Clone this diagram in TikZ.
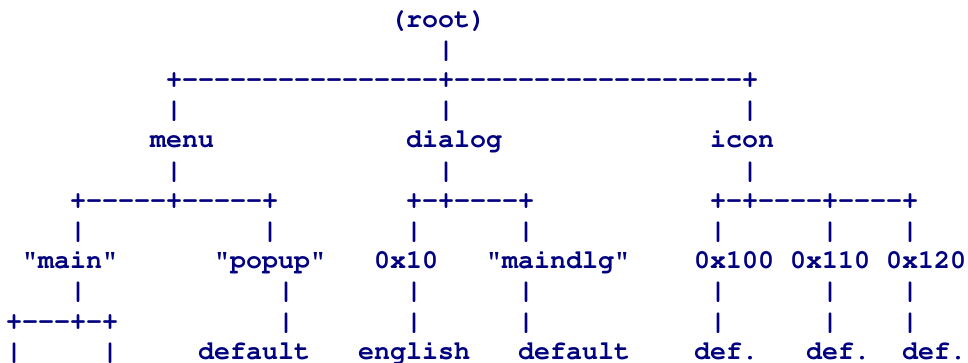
\documentclass[tikz,border=0pt]{standalone}
\usepackage[T1]{fontenc}
\definecolor{navyink}{RGB}{0,0,128}
\tikzset{asc/.style={anchor=base west, inner sep=0pt, outer sep=0pt, text=navyink,
  font=\fontencoding{T1}\fontfamily{pcr}\fontseries{b}\fontshape{n}\fontsize{26.67pt}{30pt}\selectfont}}
% row, column, name, text
\newcommand\asc[4]{\node[asc] (#3) at ({6pt+16pt*#2},{-27pt-30.2pt*#1}) {#4};}
\begin{document}
\begin{tikzpicture}
\useasboundingbox (0,0) rectangle (968pt,-362pt);
% row 0-1
\asc{0}{24}{root}{(root)}
\asc{1}{27}{rootbar}{|}
% row 2
\asc{2}{10}{rootfork}{+-{}-{}-{}-{}-{}-{}-{}-{}-{}-{}-{}-{}-{}-{}-{}-+-{}-{}-{}-{}-{}-{}-{}-{}-{}-{}-{}-{}-{}-{}-{}-{}-{}-+}
% row 3
\asc{3}{10}{menubarA}{|}
\asc{3}{27}{dialogbarA}{|}
\asc{3}{46}{iconbarA}{|}
% row 4
\asc{4}{9}{menu}{menu}
\asc{4}{25}{dialog}{dialog}
\asc{4}{44}{icon}{icon}
% row 5
\asc{5}{10}{menubarB}{|}
\asc{5}{27}{dialogbarB}{|}
\asc{5}{46}{iconbarB}{|}
% row 6
\asc{6}{4}{menufork}{+-{}-{}-{}-{}-+-{}-{}-{}-{}-+}
\asc{6}{25}{dialogfork}{+-+-{}-{}-{}-+}
\asc{6}{44}{iconfork}{+-+-{}-{}-{}-+-{}-{}-{}-+}
% row 7
\asc{7}{4}{mainbarA}{|}
\asc{7}{16}{popupbarA}{|}
\asc{7}{25}{tenbarA}{|}
\asc{7}{32}{maindlgbarA}{|}
\asc{7}{44}{hundredbarA}{|}
\asc{7}{51}{onetenbarA}{|}
\asc{7}{56}{onetwentybarA}{|}
% row 8
\asc{8}{1}{main}{"main"}
\asc{8}{13}{popup}{"popup"}
\asc{8}{23}{ten}{0x10}
\asc{8}{30}{maindlg}{"maindlg"}
\asc{8}{43}{hundred}{0x100}
\asc{8}{49}{oneten}{0x110}
\asc{8}{55}{onetwenty}{0x120}
% row 9
\asc{9}{4}{mainbarB}{|}
\asc{9}{17}{popupbarB}{|}
\asc{9}{25}{tenbarB}{|}
\asc{9}{32}{maindlgbarB}{|}
\asc{9}{44}{hundredbarB}{|}
\asc{9}{51}{onetenbarB}{|}
\asc{9}{56}{onetwentybarB}{|}
% row 10
\asc{10}{0}{mainfork}{+-{}-{}-+-+}
\asc{10}{17}{popupbarC}{|}
\asc{10}{25}{tenbarC}{|}
\asc{10}{32}{maindlgbarC}{|}
\asc{10}{44}{hundredbarC}{|}
\asc{10}{51}{onetenbarC}{|}
\asc{10}{56}{onetwentybarC}{|}
% row 11
\asc{11}{0}{mainleafA}{|}
\asc{11}{6}{mainleafB}{|}
\asc{11}{12}{popupdef}{default}
\asc{11}{22}{english}{english}
\asc{11}{32}{maindlgdef}{default}
\asc{11}{43}{hundreddef}{def.}
\asc{11}{50}{onetendef}{def.}
\asc{11}{56}{onetwentydef}{def.}
\end{tikzpicture}
\end{document}
